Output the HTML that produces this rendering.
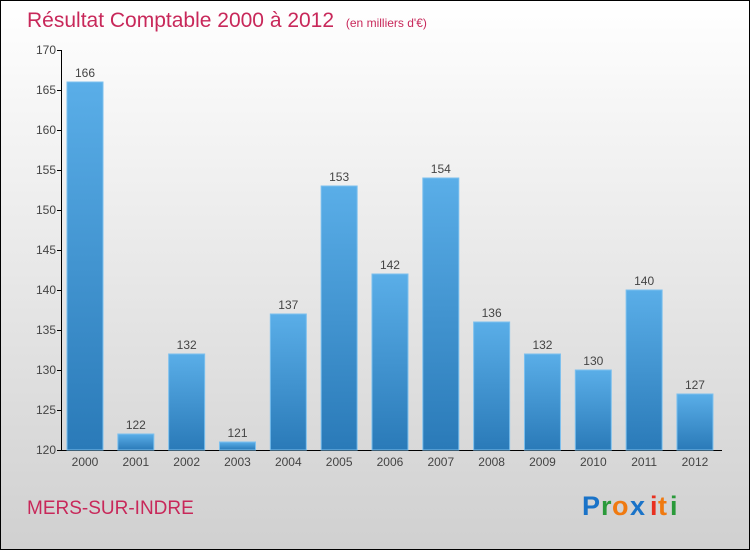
<!DOCTYPE html>
<html><head><meta charset="utf-8"><style>
body{margin:0;width:750px;height:550px;overflow:hidden}
svg{display:block;font-family:"Liberation Sans",sans-serif}
</style></head><body>
<svg id="c" width="750" height="550">
<defs>
<linearGradient id="bg" x1="0" y1="0" x2="0" y2="1"><stop offset="0" stop-color="#ffffff"/><stop offset="1" stop-color="#d0d0d0"/></linearGradient>
<linearGradient id="bar" x1="0" y1="0" x2="0" y2="1"><stop offset="0" stop-color="#5aaee8"/><stop offset="1" stop-color="#2a7ab8"/></linearGradient>
</defs>
<rect x="0.5" y="0.5" width="749" height="549" fill="url(#bg)" stroke="#000"/>
<text x="27" y="27" font-size="21" fill="#c8285a">Résultat Comptable 2000 à 2012 <tspan font-size="12" dx="6">(en milliers d'€)</tspan></text>
<g id="axes"></g>
<g id="bars"></g>
<text x="27" y="514" font-size="19" fill="#c8285a">MERS-SUR-INDRE</text>
<g font-size="27" font-weight="bold">
<text x="582" y="515" fill="#1a73c8">P</text><text x="601" y="515" fill="#2a9a3a">r</text><text x="612" y="515" fill="#f07a10">o</text><text x="630" y="515" fill="#1a73c8">x</text><text x="650" y="515" fill="#e83020">i</text><text x="658" y="515" fill="#f07a10">t</text><text x="670" y="515" fill="#2a9a3a">i</text>
</g>
</svg>
<script>
const years=["2000","2001","2002","2003","2004","2005","2006","2007","2008","2009","2010","2011","2012"];
const values=[166,122,132,121,137,153,142,154,136,132,130,140,127];
const ticks=[120,125,130,135,140,145,150,155,160,165,170];
const ns="http://www.w3.org/2000/svg";
const y=v=>450-(v-120)*8;
const x=i=>67+i*50.83;
const ax=document.getElementById('axes'),bg=document.getElementById('bars');
function mk(t,a,p){const e=document.createElementNS(ns,t);for(const k in a)e.setAttribute(k,a[k]);p.appendChild(e);return e;}
let l=mk('line',{x1:61.5,y1:50,x2:61.5,y2:450,stroke:'#000'},ax);


l=mk('line',{x1:61,y1:450.5,x2:722,y2:450.5,stroke:'#000'},ax);


ticks.forEach(t=>{
 const tk=mk('line',{x1:57,x2:62,y1:y(t)+.5,y2:y(t)+.5,stroke:'#000'},ax);
 
 
 const tx=mk('text',{x:56,y:y(t)+4,'text-anchor':'end','font-size':12,fill:'#444'},ax);
 tx.textContent=t;
 
 
});
values.forEach((v,i)=>{
 const r=mk('rect',{x:x(i),y:y(v),width:36,height:450-y(v),fill:'url(#bar)',stroke:'#7cc0ee','stroke-width':1},bg);
 
 
 const vl=mk('text',{x:x(i)+18,y:y(v)-5,'text-anchor':'middle','font-size':12,fill:'#444'},bg);
 vl.textContent=v;
 
 
 const xl=mk('text',{x:x(i)+18,y:466,'text-anchor':'middle','font-size':12,fill:'#444'},bg);
 xl.textContent=years[i];
 
 
});
</script>
</body></html>
